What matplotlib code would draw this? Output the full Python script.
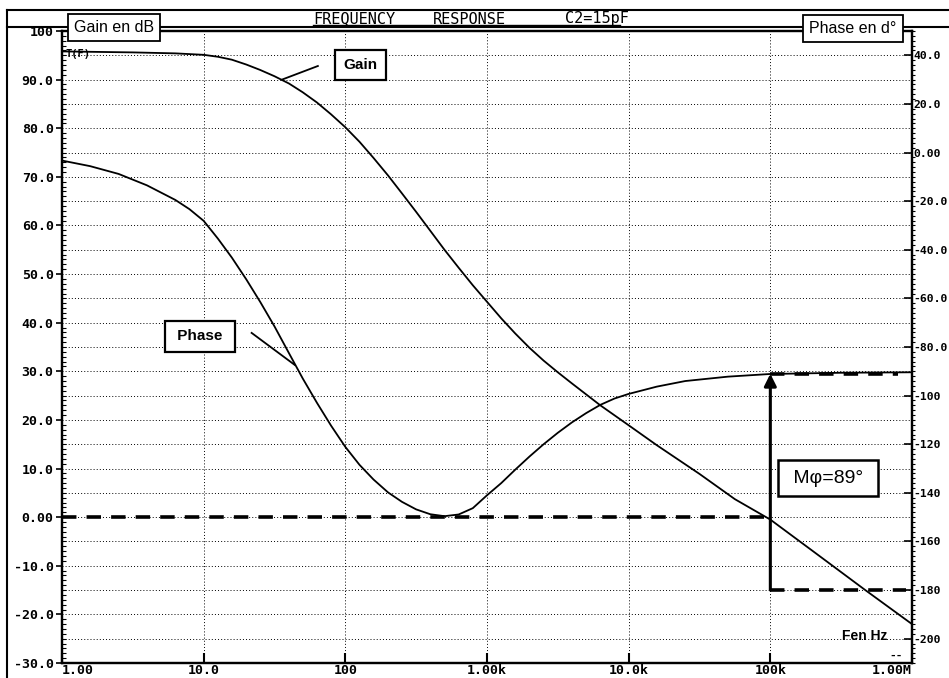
import matplotlib
matplotlib.use('Agg')
import matplotlib.pyplot as plt
from matplotlib.lines import Line2D
from matplotlib.ticker import MultipleLocator, FixedLocator, NullLocator

# donnees (gain en dB, phase en degres)
freq_gain = [1, 3.16, 6.3, 10, 12.6, 15.8, 20, 25, 31.6, 40,
             50, 63, 79, 100, 126, 158, 200, 251, 316, 398,
             501, 631, 794, 1000, 1260, 1580, 2000, 2510, 3160, 3980,
             6310, 10000, 15800, 31600, 56200, 100000, 200000, 468000, 1000000]
gain_db = [95.8, 95.6, 95.4, 95.1, 94.7, 94.1, 93.1, 92.0, 90.7, 89.2,
           87.4, 85.3, 82.9, 80.2, 77.2, 73.9, 70.3, 66.6, 62.8, 58.9,
           55.0, 51.3, 47.7, 44.3, 40.9, 37.8, 34.8, 32.2, 29.8, 27.5,
           23.0, 18.9, 14.8, 8.9, 3.7, -0.5, -7.0, -15.0, -22.0]

freq_phase = [1, 1.58, 2.51, 3.98, 6.31, 7.94, 10,
              12.6, 15.8, 20, 25.1, 31.6, 39.8, 50.1, 63.1, 79.4, 100,
              126, 158, 200, 251, 316, 398, 501, 631, 794, 1000,
              1260, 1580, 2000, 2510, 3160, 3980, 5010, 6310, 7940, 10000,
              15800, 25100, 50100, 100000, 316000, 1000000]
phase_deg = [-3.3, -5.6, -8.8, -13.5, -19.5, -23.3, -28.1,
             -35.4, -43.2, -52.2, -61.5, -71.5, -82.3, -93.0, -103.0, -112.4, -121.1,
             -128.5, -134.5, -139.8, -143.7, -146.8, -148.8, -149.6, -148.9, -146.3, -141.0,
             -136.0, -130.5, -125.0, -120.0, -115.3, -111.0, -107.2, -103.8, -101.2, -99.3,
             -96.3, -94.0, -92.2, -91.1, -90.6, -90.4]

gain_ticks = [100, 90, 80, 70, 60, 50, 40, 30, 20, 10, 0, -10, -20, -30]
gain_labels = ['100', '90.0', '80.0', '70.0', '60.0', '50.0', '40.0', '30.0',
               '20.0', '10.0', '0.00', '-10.0', '-20.0', '-30.0']
phase_ticks = [40, 20, 0, -20, -40, -60, -80, -100, -120, -140, -160, -180, -200]
phase_labels = ['40.0', '20.0', '0.00', '-20.0', '-40.0', '-60.0', '-80.0',
                '-100', '-120', '-140', '-160', '-180', '-200']
freq_ticks = [1, 10, 100, 1e3, 1e4, 1e5, 1e6]
freq_labels = ['1.00', '10.0', '100', '1.00k', '10.0k', '100k', '1.00M']

f_cross = 1e5          # frequence de coupure a 0 dB
phase_cross = -91      # phase a f_cross
phase_ref = -180
margin_text = 'Mφ=89°'

W, H = 949, 678
fig = plt.figure(figsize=(W / 100, H / 100), dpi=100)
ax = fig.add_axes([62 / W, 1 - 663 / H, (912 - 62) / W, (663 - 31) / H])
ax.set_xscale('log')
ax.set_xlim(1, 1e6)
ax.set_ylim(-30, 100)
ax2 = ax.twinx()
ax2.set_ylim(-210, 50)

# grille pointillee
grid_kw = dict(color='k', lw=0.7, ls=(0, (1, 2.2)), zorder=0)
for v in range(-25, 100, 5):
    ax.axhline(v, **grid_kw)
for f in freq_ticks[1:-1]:
    ax.axvline(f, **grid_kw)

# courbes
ax.plot(freq_gain, gain_db, color='k', lw=1.3)
ax2.plot(freq_phase, phase_deg, color='k', lw=1.3)

# traits de la marge de phase
dash_kw = dict(color='k', lw=2.6, dashes=(4, 2.8))
ax.plot([1, f_cross], [0, 0], **dash_kw)
ax2.plot([f_cross, 8e5], [phase_cross, phase_cross], **dash_kw)
ax2.plot([f_cross, 9e5], [phase_ref, phase_ref], **dash_kw)
ax2.annotate('', xy=(f_cross, phase_cross), xytext=(f_cross, phase_ref),
             arrowprops=dict(arrowstyle='-|>', color='k', lw=2.2,
                             mutation_scale=18, shrinkA=0, shrinkB=0))

# axes et graduations
mono = dict(family='DejaVu Sans Mono', fontweight='bold', fontsize=9.5)
for a in (ax, ax2):
    for s in a.spines.values():
        s.set_linewidth(1.6)
ax.xaxis.set_major_locator(FixedLocator(freq_ticks))
ax.xaxis.set_minor_locator(NullLocator())
ax.set_xticklabels(freq_labels, **mono)
xl = ax.get_xticklabels()
xl[0].set_ha('left')
xl[-1].set_ha('right')
ax.set_yticks(gain_ticks)
ax.set_yticklabels(gain_labels, **mono)
ax.yaxis.set_minor_locator(MultipleLocator(1))
ax.tick_params(axis='x', which='major', direction='in', length=7, width=1.5, pad=1)
ax.tick_params(axis='y', which='major', direction='out', length=4, width=1.2, pad=2)
ax.tick_params(axis='y', which='minor', direction='in', length=3, width=0.8)
ax2.set_yticks(phase_ticks)
ax2.set_yticklabels(phase_labels, family='DejaVu Sans Mono', fontweight='bold',
                    fontsize=8.2)
ax2.yaxis.set_minor_locator(MultipleLocator(2))
ax2.tick_params(axis='y', which='major', direction='in', length=6, width=1.2, pad=1)
ax2.tick_params(axis='y', which='minor', direction='out', length=2, width=0.8)

# etiquettes
box = dict(boxstyle='square,pad=0.55', fc='white', ec='k', lw=1.6)
ax.text(127, 93, 'Gain', family='Liberation Sans', fontweight='bold', fontsize=11,
        ha='center', va='center', bbox=box)
ax.plot([64, 35.7], [92.8, 90.0], color='k', lw=1.3)
ax.text(9.4, 37.2, ' Phase ', family='Liberation Sans', fontweight='bold', fontsize=11,
        ha='center', va='center', bbox=box)
ax.plot([21.8, 44], [37.9, 31.3], color='k', lw=1.3)
ax.text(2.55e5, 8.0, ' ' + margin_text + ' ', family='Liberation Sans', fontsize=14,
        ha='center', va='center', bbox=dict(boxstyle='square,pad=0.5', fc='white',
                                            ec='k', lw=1.8))
ax.text(1.05, 95.2, 'T(F)', family='DejaVu Sans Mono', fontweight='bold', fontsize=7.5,
        ha='left', va='center')
ax.text(4.65e5, -24.4, 'Fen Hz', family='Liberation Sans', fontweight='bold',
        fontsize=10, ha='center', va='center')
ax.text(7.7e5, -28.6, '--', family='DejaVu Sans Mono', fontweight='bold',
        fontsize=8, ha='center', va='center')

# cadre et titre
for xs, ys in [([7, 7], [10, H]), ([7, W], [10, 10]), ([7, W], [27, 27])]:
    fig.add_artist(Line2D([x / W for x in xs], [1 - y / H for y in ys],
                          color='k', lw=1.5))
fig.add_artist(Line2D([313 / W, 620 / W], [1 - 25 / H, 1 - 25 / H], color='k', lw=1))
for x0, word in [(313, 'FREQUENCY'), (433, 'RESPONSE'), (565, 'C2=15pF')]:
    fig.text(x0 / W, 1 - 23.5 / H, word, family='DejaVu Sans Mono', fontsize=11,
             ha='left', va='baseline')
hbox = dict(boxstyle='square,pad=0.4', fc='white', ec='k', lw=1.3)
fig.text(114 / W, 1 - 27.5 / H, 'Gain en dB', family='Liberation Sans', fontsize=11.5,
         ha='center', va='center', bbox=hbox, zorder=5)
fig.text(853 / W, 1 - 28.5 / H, 'Phase en d°', family='Liberation Sans', fontsize=11.5,
         ha='center', va='center', bbox=hbox, zorder=5)

fig.savefig('out.png', dpi=100)
